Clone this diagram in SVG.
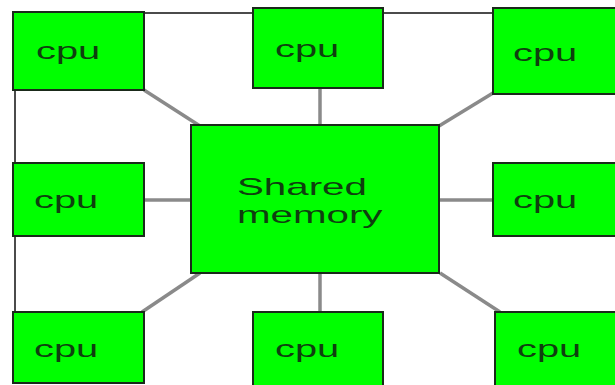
<svg xmlns="http://www.w3.org/2000/svg" width="615" height="385" viewBox="0 0 615 385">
<style>
.box{fill:#00ff00;stroke:#1a2a1a;stroke-width:2}
.t{font-family:"Liberation Sans",Arial,sans-serif;font-size:24px;fill:#0f3f0f}
.frame{fill:none;stroke:#111;stroke-width:1.5}
.link{stroke:#8a8a8a;stroke-width:3.5;fill:none}
</style>
<rect width="615" height="385" fill="#fff"/>
<g id="connectors">
<path class="frame" d="M15,330 V13 H600"/>
<line class="link" x1="144" y1="90" x2="200" y2="126"/>
<line class="link" x1="320" y1="88" x2="320" y2="126"/>
<line class="link" x1="493" y1="93" x2="439" y2="126"/>
<line class="link" x1="144" y1="200" x2="191" y2="200"/>
<line class="link" x1="439" y1="200" x2="493" y2="200"/>
<line class="link" x1="200" y1="273" x2="142" y2="312"/>
<line class="link" x1="320" y1="273" x2="320" y2="312"/>
<line class="link" x1="440" y1="273" x2="500" y2="312"/>
</g>
<g id="memory">
<rect class="box" x="191" y="125" width="248" height="148"/>
<text class="t" transform="translate(237,195) scale(1.68,1)">Shared</text>
<text class="t" transform="translate(237,223) scale(1.68,1)">memory</text>
</g>
<g id="cpu-tl"><rect class="box" x="13" y="12" width="131" height="78"/><text class="t" transform="translate(36,59) scale(1.66,1)">cpu</text></g>
<g id="cpu-tm"><rect class="box" x="253" y="8" width="130" height="80"/><text class="t" transform="translate(275,57) scale(1.66,1)">cpu</text></g>
<g id="cpu-tr"><rect class="box" x="493" y="8" width="130" height="86"/><text class="t" transform="translate(513,61) scale(1.66,1)">cpu</text></g>
<g id="cpu-ml"><rect class="box" x="13" y="163" width="131" height="73"/><text class="t" transform="translate(34,208) scale(1.66,1)">cpu</text></g>
<g id="cpu-mr"><rect class="box" x="493" y="163" width="130" height="73"/><text class="t" transform="translate(513,208) scale(1.66,1)">cpu</text></g>
<g id="cpu-bl"><rect class="box" x="13" y="312" width="131" height="71"/><text class="t" transform="translate(34,357) scale(1.66,1)">cpu</text></g>
<g id="cpu-bm"><rect class="box" x="253" y="312" width="130" height="80"/><text class="t" transform="translate(275,357) scale(1.66,1)">cpu</text></g>
<g id="cpu-br"><rect class="box" x="495" y="312" width="130" height="80"/><text class="t" transform="translate(517,357) scale(1.66,1)">cpu</text></g>
</svg>
